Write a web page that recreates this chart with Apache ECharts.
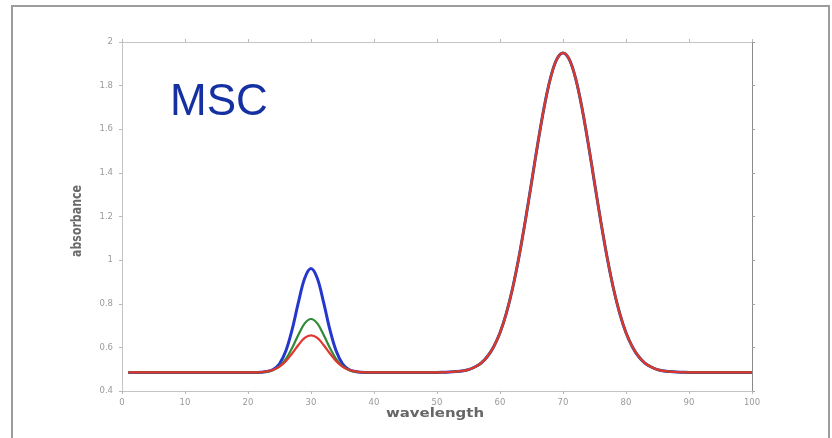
<!DOCTYPE html>
<html>
<head>
<meta charset="utf-8">
<title>MSC absorbance spectra</title>
<script src="https://cdn.jsdelivr.net/npm/echarts@6/dist/echarts.min.js"></script>
<style>
  html, body { margin: 0; padding: 0; background: #ffffff; }
  #chart { width: 832px; height: 438px; }
</style>
</head>
<body>
<div id="chart"></div>
<script>
// Wavelength grid (x values)
const wavelength = [
  1, 2, 3, 4, 5, 6, 7, 8, 9, 10, 11, 12, 13, 14, 15, 16, 17, 18, 19, 20,
  21, 22, 23, 24, 25, 26, 27, 28, 29, 30, 31, 32, 33, 34, 35, 36, 37, 38, 39, 40,
  41, 42, 43, 44, 45, 46, 47, 48, 49, 50, 51, 52, 53, 54, 55, 56, 57, 58, 59, 60,
  61, 62, 63, 64, 65, 66, 67, 68, 69, 70, 71, 72, 73, 74, 75, 76, 77, 78, 79, 80,
  81, 82, 83, 84, 85, 86, 87, 88, 89, 90, 91, 92, 93, 94, 95, 96, 97, 98, 99, 100
];

// Absorbance after multiplicative scatter correction, one array per spectrum
const absorbanceBlue = [
  0.485, 0.485, 0.485, 0.485, 0.485, 0.485, 0.485, 0.485, 0.485, 0.485,
  0.485, 0.485, 0.485, 0.485, 0.485, 0.485, 0.485, 0.485, 0.485, 0.485,
  0.485, 0.486, 0.489, 0.499, 0.525, 0.583, 0.681, 0.806, 0.917, 0.962,
  0.917, 0.806, 0.681, 0.583, 0.525, 0.499, 0.489, 0.486, 0.485, 0.485,
  0.485, 0.485, 0.485, 0.485, 0.485, 0.485, 0.485, 0.485, 0.485, 0.485,
  0.486, 0.487, 0.489, 0.492, 0.498, 0.510, 0.528, 0.558, 0.603, 0.667,
  0.756, 0.871, 1.013, 1.177, 1.355, 1.535, 1.700, 1.833, 1.920, 1.950,
  1.920, 1.833, 1.700, 1.535, 1.355, 1.177, 1.013, 0.871, 0.756, 0.667,
  0.603, 0.558, 0.528, 0.510, 0.498, 0.492, 0.489, 0.487, 0.486, 0.485,
  0.485, 0.485, 0.485, 0.485, 0.485, 0.485, 0.485, 0.485, 0.485, 0.485
];

const absorbanceGreen = [
  0.485, 0.485, 0.485, 0.485, 0.485, 0.485, 0.485, 0.485, 0.485, 0.485,
  0.485, 0.485, 0.485, 0.485, 0.485, 0.485, 0.485, 0.485, 0.485, 0.485,
  0.485, 0.486, 0.488, 0.496, 0.513, 0.546, 0.597, 0.658, 0.710, 0.730,
  0.710, 0.658, 0.597, 0.546, 0.513, 0.496, 0.488, 0.486, 0.485, 0.485,
  0.485, 0.485, 0.485, 0.485, 0.485, 0.485, 0.485, 0.485, 0.485, 0.485,
  0.486, 0.487, 0.489, 0.492, 0.498, 0.510, 0.528, 0.558, 0.603, 0.667,
  0.756, 0.871, 1.013, 1.177, 1.355, 1.535, 1.700, 1.833, 1.920, 1.950,
  1.920, 1.833, 1.700, 1.535, 1.355, 1.177, 1.013, 0.871, 0.756, 0.667,
  0.603, 0.558, 0.528, 0.510, 0.498, 0.492, 0.489, 0.487, 0.486, 0.485,
  0.485, 0.485, 0.485, 0.485, 0.485, 0.485, 0.485, 0.485, 0.485, 0.485
];

const absorbanceRed = [
  0.485, 0.485, 0.485, 0.485, 0.485, 0.485, 0.485, 0.485, 0.485, 0.485,
  0.485, 0.485, 0.485, 0.485, 0.485, 0.485, 0.485, 0.485, 0.485, 0.485,
  0.485, 0.486, 0.490, 0.497, 0.512, 0.537, 0.572, 0.611, 0.643, 0.655,
  0.643, 0.611, 0.572, 0.537, 0.512, 0.497, 0.490, 0.486, 0.485, 0.485,
  0.485, 0.485, 0.485, 0.485, 0.485, 0.485, 0.485, 0.485, 0.485, 0.485,
  0.486, 0.487, 0.489, 0.492, 0.498, 0.510, 0.528, 0.558, 0.603, 0.667,
  0.756, 0.871, 1.013, 1.177, 1.355, 1.535, 1.700, 1.833, 1.920, 1.950,
  1.920, 1.833, 1.700, 1.535, 1.355, 1.177, 1.013, 0.871, 0.756, 0.667,
  0.603, 0.558, 0.528, 0.510, 0.498, 0.492, 0.489, 0.487, 0.486, 0.485,
  0.485, 0.485, 0.485, 0.485, 0.485, 0.485, 0.485, 0.485, 0.485, 0.485
];

const xTicks = [0, 10, 20, 30, 40, 50, 60, 70, 80, 90, 100];
const yTicks = [0.4, 0.6, 0.8, 1, 1.2, 1.4, 1.6, 1.8, 2];

function pairs(values) {
  return wavelength.map((w, i) => [w, values[i]]);
}

const chart = echarts.init(document.getElementById('chart'), null, { renderer: 'canvas' });

const labelFont = { color: '#9a9a9a', fontSize: 8.5, fontFamily: 'DejaVu Sans' };

function spectrum(name, values, color, width, z) {
  return {
    name: name,
    type: 'line',
    xAxisIndex: 0,
    yAxisIndex: 0,
    data: pairs(values),
    showSymbol: false,
    smooth: 0.35,
    lineStyle: { color: color, width: width },
    z: z
  };
}

const option = {
  backgroundColor: '#ffffff',
  animation: false,
  grid: { left: 122, right: 80, top: 42, bottom: 47, containLabel: false },
  xAxis: [
    {
      type: 'value',
      position: 'bottom',
      min: xTicks[0],
      max: xTicks[xTicks.length - 1],
      interval: xTicks[1] - xTicks[0],
      axisLine: { show: true, onZero: false, lineStyle: { color: '#c4c4c4', width: 1 } },
      axisTick: { show: true, length: 3, lineStyle: { color: '#b8b8b8' } },
      axisLabel: Object.assign({ margin: 7 }, labelFont),
      splitLine: { show: false }
    },
    {
      type: 'value',
      position: 'top',
      min: xTicks[0],
      max: xTicks[xTicks.length - 1],
      interval: xTicks[1] - xTicks[0],
      axisLine: { show: true, onZero: false, lineStyle: { color: '#c4c4c4', width: 1 } },
      axisTick: { show: true, length: 3, lineStyle: { color: '#b8b8b8' } },
      axisLabel: { show: false },
      splitLine: { show: false }
    }
  ],
  yAxis: [
    {
      type: 'value',
      position: 'left',
      min: yTicks[0],
      max: yTicks[yTicks.length - 1],
      interval: 0.2,
      axisLine: { show: true, onZero: false, lineStyle: { color: '#c4c4c4', width: 1 } },
      axisTick: { show: true, length: 3, lineStyle: { color: '#b8b8b8' } },
      axisLabel: Object.assign({ margin: 9 }, labelFont),
      splitLine: { show: false }
    },
    {
      type: 'value',
      position: 'right',
      min: yTicks[0],
      max: yTicks[yTicks.length - 1],
      interval: 0.2,
      axisLine: { show: true, onZero: false, lineStyle: { color: '#8a8a8a', width: 1 } },
      axisTick: { show: true, length: 3, lineStyle: { color: '#a0a0a0' } },
      axisLabel: { show: false },
      splitLine: { show: false }
    }
  ],
  graphic: [
    {
      // outer frame around the figure
      type: 'rect',
      silent: true,
      shape: { x: 12, y: 6, width: 817, height: 460 },
      style: { fill: 'none', stroke: '#9c9c9c', lineWidth: 2 }
    },
    {
      type: 'text',
      left: 170,
      top: 81,
      style: {
        text: 'MSC',
        fontSize: 44,
        fontFamily: 'Liberation Sans, Arial, sans-serif',
        fill: '#1530a0'
      }
    },
    {
      // x-axis title, drawn wide like the rest of the axis text
      type: 'text',
      x: 435,
      y: 414,
      scaleX: 1.3,
      style: {
        text: 'wavelength',
        fontSize: 11.5,
        fontWeight: 'bold',
        fontFamily: 'DejaVu Sans',
        fill: '#666666',
        align: 'center',
        verticalAlign: 'middle'
      }
    },
    {
      // y-axis title
      type: 'text',
      x: 78,
      y: 221,
      rotation: Math.PI / 2,
      scaleY: 1.2,
      style: {
        text: 'absorbance',
        fontSize: 11,
        fontWeight: 'bold',
        fontFamily: 'DejaVu Sans',
        fill: '#6a6a6a',
        align: 'center',
        verticalAlign: 'middle'
      }
    }
  ],
  series: [
    spectrum('blue', absorbanceBlue, '#2638cc', 3, 2),
    spectrum('green', absorbanceGreen, '#2e8a35', 2.2, 3),
    spectrum('red', absorbanceRed, '#e0352e', 2.2, 4)
  ]
};

chart.setOption(option);
</script>
</body>
</html>
